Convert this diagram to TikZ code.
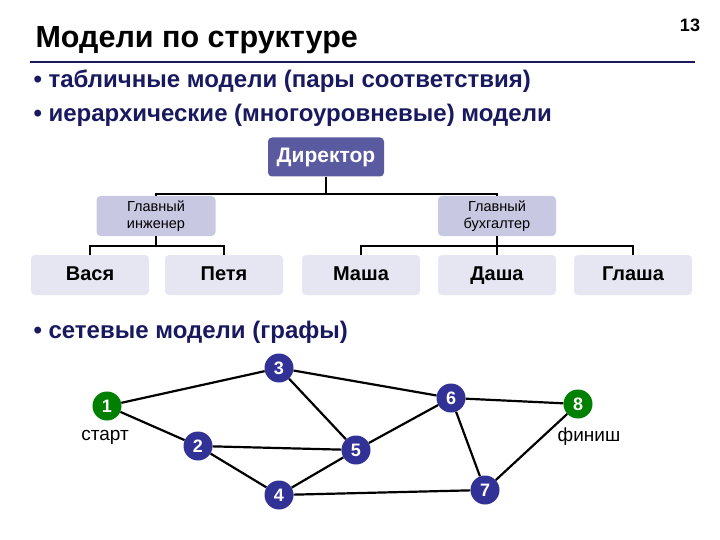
\documentclass[tikz,border=0pt]{standalone}
\usepackage{fontspec}
\setmainfont{Liberation Sans}
\definecolor{navy}{RGB}{25,25,95}
\begin{document}
\begin{tikzpicture}[x=1pt,y=-1pt,
 box/.style={rounded corners=4pt,inner sep=0pt,align=center},
 top/.style={box,fill={rgb,255:red,90;green,90;blue,160},text=white,font=\bfseries\fontsize{21}{24}\selectfont,text height=16pt,text depth=5pt},
 mid/.style={box,fill={rgb,255:red,200;green,200;blue,226},font=\fontsize{14.5}{17}\selectfont},
 low/.style={box,fill={rgb,255:red,230;green,230;blue,242},font=\bfseries\fontsize{20}{24}\selectfont,text height=16pt,text depth=5pt},
 bl/.style={circle,fill={rgb,255:red,50;green,50;blue,150},text=white,minimum size=29pt,inner sep=0pt,font=\bfseries\fontsize{18}{20}\selectfont},
 gr/.style={bl,fill={rgb,255:red,0;green,128;blue,0}},
 bul/.style={anchor=west,text=navy,font=\bfseries\fontsize{24}{28}\selectfont},
 ln/.style={line width=2.2pt}]
\useasboundingbox (0,0) rectangle (720,540);
\node[anchor=west,font=\bfseries\fontsize{30.5}{34}\selectfont] (t) at (32,40) {Модели по структуре};
\node[font=\bfseries\fontsize{18}{20}\selectfont] (p) at (690,25) {13};
\draw[navy,line width=2.2pt] (30,62) -- (695,62);
\node[bul] (b1) at (30,81) {• табличные модели (пары соответствия)};
\node[bul] (b2) at (30,115) {• иерархические (многоуровневые) модели};
\node[bul] (b3) at (30,332) {• сетевые модели (графы)};
\node[top,minimum width=116pt,minimum height=39pt] (d) at (326,157) {Директор};
\node[mid,minimum width=119pt,minimum height=40pt] (e) at (156,216) {Главный\\инженер};
\node[mid,minimum width=118pt,minimum height=40pt] (a) at (497,216) {Главный\\бухгалтер};
\foreach \n/\x/\t in {v/90/Вася,pe/224/Петя,m/361/Маша,da/497/Даша,g/633/Глаша}
  \node[low,minimum width=118pt,minimum height=40pt] (\n) at (\x,275) {\t};
\draw[line width=1.8pt] (d.south) -- ++(0,17) -| (e.north);
\draw[line width=1.8pt] (d.south) ++(0,17) -| (a.north);
\draw[line width=1.8pt] (e.south) -- ++(0,10) -| (v.north);
\draw[line width=1.8pt] (e.south) ++(0,10) -| (pe.north);
\draw[line width=1.8pt] (a.south) -- (da.north);
\draw[line width=1.8pt] (a.south) ++(0,10) -| (m.north);
\draw[line width=1.8pt] (a.south) ++(0,10) -| (g.north);
\node[gr] (n1) at (107,406) {1};
\node[bl] (n3) at (279,368) {3};
\node[bl] (n6) at (451,398) {6};
\node[gr] (n8) at (578,404) {8};
\node[bl] (n2) at (198,446) {2};
\node[bl] (n5) at (356,450) {5};
\node[bl] (n4) at (279,495) {4};
\node[bl] (n7) at (485,490) {7};
\node[font=\fontsize{19}{20}\selectfont] (s) at (105,437) {старт};
\node[font=\fontsize{19}{20}\selectfont] (f) at (589,437) {финиш};
\foreach \a/\b in {n1/n3,n1/n2,n3/n6,n3/n5,n2/n5,n2/n4,n4/n5,n5/n6,n6/n8,n6/n7,n4/n7,n7/n8}
  \draw[ln] (\a) -- (\b);
\end{tikzpicture}
\end{document}
